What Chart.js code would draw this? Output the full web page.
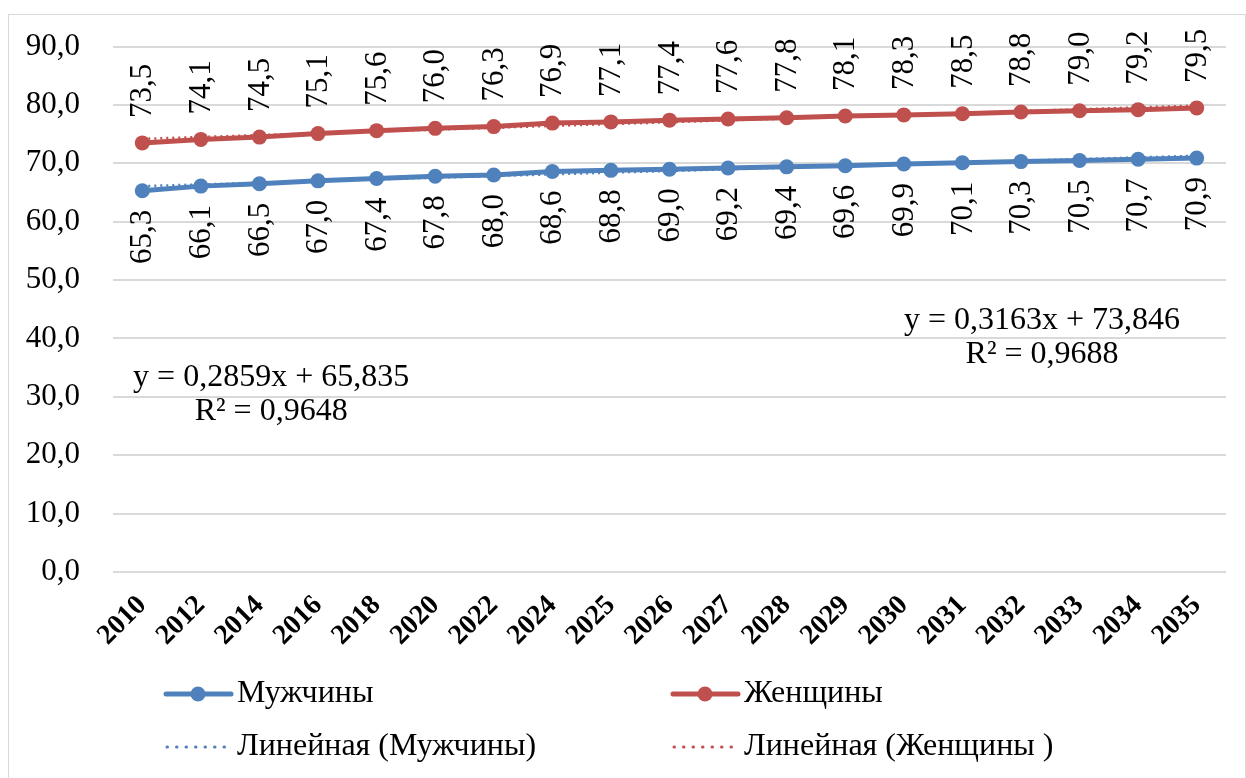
<!DOCTYPE html>
<html>
<head>
<meta charset="utf-8">
<script src="https://cdn.jsdelivr.net/npm/chart.js@4/dist/chart.umd.min.js"></script>
<style>
  body { margin: 0; background: #fff; }
  #wrap { position: absolute; left: 8px; top: 14px; width: 1236px; height: 780px; border: 1px solid #d9d9d9; }
  #chart { position: absolute; left: 0; top: -20px; }
</style>
</head>
<body>
<div id="wrap"><canvas id="chart" width="1236" height="800"></canvas></div>
<script>
const years = ['2010', '2012', '2014', '2016', '2018', '2020', '2022', '2024', '2025', '2026',
  '2027', '2028', '2029', '2030', '2031', '2032', '2033', '2034', '2035'];
const men = [65.3, 66.1, 66.5, 67.0, 67.4, 67.8, 68.0, 68.6, 68.8, 69.0,
  69.2, 69.4, 69.6, 69.9, 70.1, 70.3, 70.5, 70.7, 70.9];
const women = [73.5, 74.1, 74.5, 75.1, 75.6, 76.0, 76.3, 76.9, 77.1, 77.4,
  77.6, 77.8, 78.1, 78.3, 78.5, 78.8, 79.0, 79.2, 79.5];
// trend line end values (first and last year)
const trendMen = [66.1, 71.3];
const trendWomen = [74.2, 79.9];
const eqMen = ['y = 0,2859x + 65,835', 'R² = 0,9648'];
const eqWomen = ['y = 0,3163x + 73,846', 'R² = 0,9688'];
const legendLabels = ['Мужчины', 'Женщины', 'Линейная (Мужчины)', 'Линейная (Женщины )'];

const BLUE = '#4f81bd';
const RED = '#c0504d';
const FONT = "'Liberation Serif', 'DejaVu Serif', serif";

function ends(pair) {
  const arr = years.map(() => null);
  arr[0] = pair[0];
  arr[arr.length - 1] = pair[1];
  return arr;
}
const fmt = v => v.toFixed(1).replace('.', ',');

const labelsPlugin = {
  id: 'labelsPlugin',
  afterDatasetsDraw(chart) {
    const ctx = chart.ctx;
    ctx.save();
    ctx.font = '31px ' + FONT;
    ctx.fillStyle = '#000';
    ctx.textBaseline = 'middle';
    [0, 1].forEach(i => {
      const meta = chart.getDatasetMeta(i);
      const vals = chart.data.datasets[i].data;
      meta.data.forEach((pt, j) => {
        ctx.save();
        ctx.translate(pt.x + 1, pt.y);
        ctx.rotate(-Math.PI / 2);
        if (i === 1) {
          ctx.textAlign = 'left';
          ctx.fillText(fmt(vals[j]), 25, 0);
        } else {
          ctx.textAlign = 'right';
          ctx.fillText(fmt(vals[j]), -19, 0);
        }
        ctx.restore();
      });
    });

    // trend equations
    const xs = chart.scales.x, ys = chart.scales.y;
    ctx.textAlign = 'center';
    ctx.font = '32px ' + FONT;
    const drawEq = (lines, idx, val) => {
      const x = xs.getPixelForValue(idx);
      const y = ys.getPixelForValue(val);
      ctx.fillText(lines[0], x, y);
      ctx.fillText(lines[1], x, y + 34);
    };
    drawEq(eqMen, 2.2, 33.3);
    drawEq(eqWomen, 15.36, 43.0);

    // legend
    const top = chart.chartArea.bottom;
    const items = [
      { x: 156, y: top + 122, color: BLUE, dotted: false, text: legendLabels[0] },
      { x: 663, y: top + 122, color: RED, dotted: false, text: legendLabels[1] },
      { x: 156, y: top + 175, color: BLUE, dotted: true, text: legendLabels[2] },
      { x: 663, y: top + 175, color: RED, dotted: true, text: legendLabels[3] }
    ];
    items.forEach(it => {
      ctx.strokeStyle = it.color;
      ctx.fillStyle = it.color;
      ctx.lineCap = 'round';
      if (it.dotted) {
        ctx.lineWidth = 3;
        ctx.setLineDash([0.5, 9]);
        ctx.beginPath();
        ctx.moveTo(it.x + 2, it.y);
        ctx.lineTo(it.x + 62, it.y);
        ctx.stroke();
        ctx.setLineDash([]);
      } else {
        ctx.lineWidth = 5;
        ctx.beginPath();
        ctx.moveTo(it.x + 1, it.y);
        ctx.lineTo(it.x + 66, it.y);
        ctx.stroke();
        ctx.beginPath();
        ctx.arc(it.x + 33, it.y, 7.5, 0, Math.PI * 2);
        ctx.fill();
      }
      ctx.fillStyle = '#000';
      ctx.textAlign = 'left';
      ctx.fillText(it.text, it.x + 72, it.y);
    });
    ctx.restore();
  }
};

new Chart(document.getElementById('chart'), {
  type: 'line',
  data: {
    labels: years,
    datasets: [
      { label: legendLabels[0], data: men, borderColor: BLUE, backgroundColor: BLUE,
        borderWidth: 5, pointRadius: 7.5, pointBorderWidth: 0, order: 2 },
      { label: legendLabels[1], data: women, borderColor: RED, backgroundColor: RED,
        borderWidth: 5, pointRadius: 7.5, pointBorderWidth: 0, order: 2 },
      { label: legendLabels[2], data: ends(trendMen), borderColor: BLUE, borderWidth: 2.5,
        borderDash: [2, 4], pointRadius: 0, spanGaps: true, order: 1 },
      { label: legendLabels[3], data: ends(trendWomen), borderColor: RED, borderWidth: 2.5,
        borderDash: [2, 4], pointRadius: 0, spanGaps: true, order: 1 }
    ]
  },
  options: {
    responsive: false,
    animation: false,
    layout: { padding: { top: 15, right: 19, bottom: 0, left: 0 } },
    plugins: { legend: { display: false }, tooltip: { enabled: false } },
    scales: {
      x: {
        offset: true,
        grid: { display: false },
        border: { display: false },
        ticks: {
          autoSkip: false, minRotation: 45, maxRotation: 45, padding: 9,
          color: '#000', font: { family: FONT, size: 28, weight: 'bold' }
        },
        afterFit(scale) { scale.height = 223; }
      },
      y: {
        min: 0, max: 90,
        grid: { color: '#d9d9d9', lineWidth: 2, drawTicks: false },
        border: { display: false },
        ticks: {
          stepSize: 10, padding: 33, color: '#000',
          font: { family: FONT, size: 31 },
          callback: v => fmt(v)
        },
        afterFit(scale) { scale.width = 104; }
      }
    }
  },
  plugins: [labelsPlugin]
});
</script>
</body>
</html>
